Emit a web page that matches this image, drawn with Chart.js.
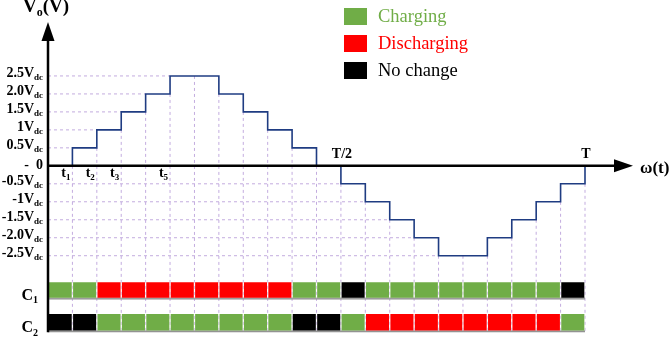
<!DOCTYPE html>
<html><head><meta charset="utf-8">
<script src="https://cdn.jsdelivr.net/npm/chart.js@4/dist/chart.umd.min.js"></script>
<style>html,body{margin:0;padding:0;background:#fff;overflow:hidden}#wrap{width:671px;height:338px;position:relative}canvas{display:block}</style>
</head><body><div id="wrap"><canvas id="c" width="671" height="338"></canvas></div>
<script>
// ---------- data ----------
const intervalCount = 22;
const waveLevels = [0, 0.5, 1, 1.5, 2, 2.5, 2.5, 2, 1.5, 1, 0.5, 0, -0.5, -1, -1.5, -2, -2.5, -2.5, -2, -1.5, -1, -0.5];
const c1States = ['C','C','D','D','D','D','D','D','D','D','C','C','N','C','C','C','C','C','C','C','C','N'];
const c2States = ['N','N','C','C','C','C','C','C','C','C','N','N','C','D','D','D','D','D','D','D','D','C'];
const tickValues = [2.5, 2.0, 1.5, 1, 0.5, 0, -0.5, -1, -1.5, -2.0, -2.5];
const tickMain = ['2.5V', '2.0V', '1.5V', '1V', '0.5V', '-  0', '-0.5V', '-1V', '-1.5V', '-2.0V', '-2.5V'];
const tickSub = ['dc', 'dc', 'dc', 'dc', 'dc', '', 'dc', 'dc', 'dc', 'dc', 'dc'];
const timeLabelIdx = [1, 2, 3, 5];
const timeLabelSub = ['1', '2', '3', '5'];
const periodLabels = ['T/2', 'T'];
const periodLabelIdx = [12, 22];
const rowNames = ['C', 'C'];
const rowSubs = ['1', '2'];
const stateKeys = ['C', 'D', 'N'];
const stateNames = ['Charging', 'Discharging', 'No change'];

// ---------- styles / layout ----------
const stateColors = { C: '#70ad47', D: '#ff0000', N: '#000000' };
const stateTextColors = { C: '#70ad47', D: '#ff0000', N: '#000000' };
const Y_MIN = -4.65, Y_MAX = 3.5;
const rowRanges = [[-3.69, -3.22], [-4.6, -4.1]];
const SERIF = '"Liberation Serif", "Times New Roman", serif';
const gridColor = '#c3acdf';

// derived line data
const wavePts = waveLevels.map((v, i) => ({ x: i, y: v }));
wavePts.push({ x: intervalCount, y: 0 });

const hGrid = [];
tickValues.filter(v => v !== 0).forEach(v => {
  const i = waveLevels.indexOf(v);
  hGrid.push({ x: 0, y: v }, { x: i, y: v }, { x: i, y: null });
});
const vGrid = [];
for (let k = 1; k <= intervalCount; k++) {
  const prev = waveLevels[k - 1];
  const next = k < intervalCount ? waveLevels[k] : 0;
  vGrid.push({ x: k, y: Math.min(prev, next) }, { x: k, y: rowRanges[1][0] }, { x: k, y: null });
}
const baseLines = [];
rowRanges.forEach(r => baseLines.push({ x: 0, y: r[0] }, { x: intervalCount, y: r[0] }, { x: intervalCount, y: null }));

function barDs(states, range, label) {
  return {
    type: 'bar', label,
    data: states.map((s, i) => ({ x: i + 0.5, y: [range[0], range[1]] })),
    backgroundColor: states.map(s => stateColors[s]),
    borderColor: 'rgba(255,255,255,0.25)', borderWidth: 1, borderSkipped: false,
    barPercentage: 1, categoryPercentage: 1, grouped: false, order: 1
  };
}

function drawSub(ctx, main, sub, x, yMid, size, subSize, align, color) {
  ctx.fillStyle = color || '#000';
  ctx.font = 'bold ' + size + 'px ' + SERIF;
  const w1 = ctx.measureText(main).width;
  ctx.font = 'bold ' + subSize + 'px ' + SERIF;
  const w2 = sub ? ctx.measureText(sub).width : 0;
  const total = w1 + w2;
  let left = align === 'right' ? x - total : align === 'center' ? x - total / 2 : x;
  ctx.textBaseline = 'middle'; ctx.textAlign = 'left';
  ctx.font = 'bold ' + size + 'px ' + SERIF;
  ctx.fillText(main, left, yMid);
  if (sub) {
    ctx.font = 'bold ' + subSize + 'px ' + SERIF;
    ctx.fillText(sub, left + w1, yMid + size * 0.3);
  }
}

const decor = {
  id: 'decor',
  afterDatasetsDraw(chart) {
    const { ctx, scales: { x, y } } = chart;
    const x0 = x.getPixelForValue(0), y0 = y.getPixelForValue(0);
    const top = y.getPixelForValue(Y_MAX), bottom = y.getPixelForValue(rowRanges[1][0]);
    const xEnd = x.getPixelForValue(intervalCount);
    ctx.save();
    // axes
    ctx.strokeStyle = '#000'; ctx.fillStyle = '#000'; ctx.lineWidth = 2.5;
    ctx.beginPath(); ctx.moveTo(x0, top); ctx.lineTo(x0, bottom + 1); ctx.stroke();
    ctx.beginPath(); ctx.moveTo(x0 - 1, y0); ctx.lineTo(xEnd + 30, y0); ctx.stroke();
    ctx.beginPath(); ctx.moveTo(x0, top - 18); ctx.lineTo(x0 - 6.5, top + 1); ctx.lineTo(x0 + 6.5, top + 1); ctx.closePath(); ctx.fill();
    ctx.beginPath(); ctx.moveTo(xEnd + 48, y0); ctx.lineTo(xEnd + 29, y0 - 6.5); ctx.lineTo(xEnd + 29, y0 + 6.5); ctx.closePath(); ctx.fill();
    // axis titles
    drawSub(ctx, 'V', 'o', 23, 7, 19, 12, 'left');
    ctx.font = 'bold 19px ' + SERIF; ctx.textBaseline = 'middle'; ctx.textAlign = 'left';
    const vw = ctx.measureText('V').width; ctx.font = 'bold 12px ' + SERIF;
    const ow = ctx.measureText('o').width; ctx.font = 'bold 19px ' + SERIF;
    ctx.fillText('(V)', 23 + vw + ow, 7);
    ctx.font = 'bold 17px ' + SERIF; ctx.fillText('\u03c9(t)', xEnd + 55, y0 + 3);
    // tick labels
    tickValues.forEach((v, i) => {
      const py = y.getPixelForValue(v) - (v === 0 ? 0 : 2.5);
      drawSub(ctx, tickMain[i], tickSub[i], x0 - 5, py, 14, 9, 'right');
    });
    // time labels
    timeLabelIdx.forEach((k, i) => {
      drawSub(ctx, 't', timeLabelSub[i], x.getPixelForValue(k) - 2, y0 + 8, 14, 9, 'right');
    });
    periodLabels.forEach((t, i) => {
      ctx.font = 'bold 14px ' + SERIF; ctx.textAlign = 'center'; ctx.textBaseline = 'middle'; ctx.fillStyle = '#000';
      ctx.fillText(t, x.getPixelForValue(periodLabelIdx[i]) + 1, y0 - 11);
    });
    // row labels
    rowRanges.forEach((r, i) => {
      const cy = (y.getPixelForValue(r[0]) + y.getPixelForValue(r[1])) / 2 + 6;
      drawSub(ctx, rowNames[i], rowSubs[i], 38, cy, 16, 10, 'right');
    });
    // legend
    stateKeys.forEach((k, i) => {
      const ly = 8 + i * 27;
      ctx.fillStyle = stateColors[k]; ctx.fillRect(344, ly, 23, 17);
      ctx.fillStyle = stateTextColors[k]; ctx.font = '18.5px ' + SERIF;
      ctx.textAlign = 'left'; ctx.textBaseline = 'middle';
      ctx.fillText(stateNames[i], 378, ly + 9);
    });
    ctx.restore();
  }
};

new Chart(document.getElementById('c'), {
  type: 'bar',
  data: {
    datasets: [
      { type: 'line', label: 'Vo', data: wavePts, stepped: 'before', borderColor: '#1f3c82', borderWidth: 1.6,
        pointRadius: 0, fill: false, order: 0, clip: 6 },
      barDs(c1States, rowRanges[0], 'C1'),
      barDs(c2States, rowRanges[1], 'C2'),
      { type: 'line', label: 'base', data: baseLines, borderColor: '#8c8c8c', borderWidth: 2, pointRadius: 0,
        spanGaps: false, order: 2, clip: 6 },
      { type: 'line', label: 'hgrid', data: hGrid, borderColor: gridColor, borderWidth: 1, borderDash: [3, 3],
        pointRadius: 0, spanGaps: false, order: 3, clip: 6 },
      { type: 'line', label: 'vgrid', data: vGrid, borderColor: gridColor, borderWidth: 1, borderDash: [3, 3],
        pointRadius: 0, spanGaps: false, order: 3, clip: 6 }
    ]
  },
  options: {
    responsive: false, animation: false, devicePixelRatio: 1,
    layout: { padding: { left: 48, right: 86, top: 40, bottom: 5 } },
    plugins: { legend: { display: false }, tooltip: { enabled: false } },
    scales: {
      x: { type: 'linear', min: 0, max: intervalCount, offset: false, display: false, ticks: { stepSize: 1 } },
      y: { type: 'linear', min: Y_MIN, max: Y_MAX, display: false }
    }
  },
  plugins: [decor]
});
</script></body></html>
